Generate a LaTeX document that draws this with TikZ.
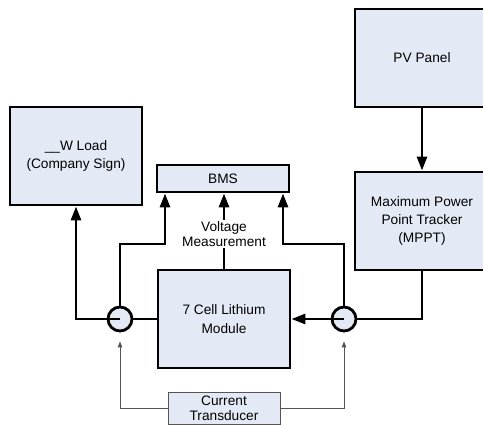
\documentclass[tikz,border=0pt]{standalone}
\usepackage{fontspec}
\setmainfont{Liberation Sans}
\usetikzlibrary{arrows.meta,calc}
\definecolor{boxfill}{HTML}{E4EAF5}
\definecolor{thingray}{HTML}{555555}
\begin{document}
\begin{tikzpicture}[x=1pt,y=-1pt,
  font=\fontsize{13.7}{18.3}\selectfont,
  block/.style={draw=black,line width=2.8pt,fill=boxfill,align=center,
    inner sep=0pt,minimum width=#1},
  block/.default=132pt,
  sensor/.style={draw=black,line width=2.8pt,fill=boxfill,circle,
    minimum size=24pt,inner sep=0pt},
  wire/.style={line width=2.8pt,line join=miter},
  power/.style={wire,-{Triangle[length=14pt,width=10pt]}},
  signal/.style={draw=thingray,line width=1pt,-{Triangle[length=6pt,width=4.5pt]}}]
\useasboundingbox (0,0) rectangle (483,425);
\clip (0,0) rectangle (483,425);

% blocks
\node[block=134pt,minimum height=98pt] (pv) at (422,58) {PV Panel};
\node[block=134pt,minimum height=98pt] (mppt) at (422,221)
  {Maximum Power\\Point Tracker\\(MPPT)};
\node[block,minimum height=98pt] (load) at (76,156) {\_\_W Load\\(Company Sign)};
\node[block,minimum height=27pt] (bms) at (223,178.5) {BMS};
\node[block,minimum height=98pt] (batt) at (224,319) {7 Cell Lithium\\Module};
\node[draw=thingray,line width=1pt,fill=boxfill,align=center,inner sep=0pt,
  minimum width=112pt,minimum height=32pt,
  font=\fontsize{13.7}{15}\selectfont] (ct) at (224,408.5) {Current\\Transducer};
\node[align=center,inner sep=1pt,font=\fontsize{13.7}{15.7}\selectfont]
  (vm) at (224,234) {Voltage\\Measurement};

% current sensors
\node[sensor] (sl) at (120,319) {};
\node[sensor] (sr) at (344,319) {};
\draw[wire] (sl.west) -- (sl.center);
\draw[wire] (sr.west) -- (sr.center);

% power path
\draw[power] (pv.south) -- (mppt.north);
\draw[wire] (mppt.south) -- (mppt.south |- sr.east) -- (sr.east);
\draw[power] (sr.west) -- (batt.east);
\draw[wire] (batt.west) -- (sl.east);
\draw[power] (sl.west) -- (sl.west -| load.south) -- (load.south);

% voltage sensing to the BMS
\coordinate (tapl) at (165,244);
\coordinate (tapr) at (283,244);
\draw[power] (sl.north) -- (sl.north |- tapl) -- (tapl) -- (tapl |- bms.south);
\draw[power] (sr.north) -- (sr.north |- tapr) -- (tapr) -- (tapr |- bms.south);
\draw[wire] (batt.north) -- (vm.south);
\draw[power] (vm.north) -- (vm.north |- bms.south);

% current transducer feedback
\draw[signal] (ct.west) -- (ct.west -| sl.south) -- ([yshift=-9pt]sl.south);
\draw[signal] (ct.east) -- (ct.east -| sr.south) -- ([yshift=-9pt]sr.south);
\end{tikzpicture}
\end{document}
